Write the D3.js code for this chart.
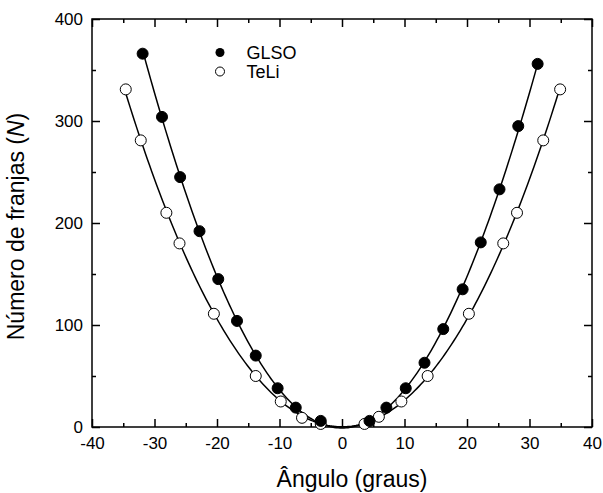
<!DOCTYPE html>
<html><head><meta charset="utf-8">
<script src="https://cdn.jsdelivr.net/npm/d3@7"></script>
<style>body{margin:0;background:#fff}svg{display:block}text{font-family:"Liberation Sans",Arial,sans-serif;fill:#000}</style>
</head><body><svg id="c" width="603" height="493"></svg>
<script>
const glsoX=[-31.9,-28.8,-25.9,-22.8,-19.8,-16.8,-13.8,-10.3,-7.4,-3.4,4.4,7.1,10.2,13.2,16.2,19.3,22.2,25.2,28.2,31.3];
const glsoY=[366,304,245,192,145,104,70,38,19,6,6,19,38,63,96,135,181,233,295,356];
const teliX=[-34.6,-32.2,-28.1,-26.0,-20.5,-13.8,-9.8,-6.4,-3.4,3.6,5.9,9.5,13.7,20.3,25.8,28.0,32.2,34.9];
const teliY=[331,281,210,180,111,50,25,9,3,3,10,25,50,111,180,210,281,331];
const xTicks=[-40,-30,-20,-10,0,10,20,30,40];
const yTicks=[0,100,200,300,400];
const seriesNames=["GLSO","TeLi"];

(function(){
const L=92,R=592,T=19,B=427;
const svg=d3.select("#c");
const x=d3.scaleLinear().domain([-40,40]).range([L,R]);
const y=d3.scaleLinear().domain([0,400]).range([B,T]);

// least-squares fit with even powers (1, x^2, x^4) of the plotted data
function evenFit(xs,ys){
  const pw=[0,2,4],n=pw.length,A=[],b=[];
  for(let i=0;i<n;i++){A.push(new Array(n).fill(0));b.push(0);}
  xs.forEach((xv,k)=>{for(let i=0;i<n;i++){b[i]+=ys[k]*Math.pow(xv,pw[i]);for(let j=0;j<n;j++)A[i][j]+=Math.pow(xv,pw[i]+pw[j]);}});
  for(let i=0;i<n;i++){let p=i;for(let r=i+1;r<n;r++)if(Math.abs(A[r][i])>Math.abs(A[p][i]))p=r;
    [A[i],A[p]]=[A[p],A[i]];[b[i],b[p]]=[b[p],b[i]];
    for(let r=i+1;r<n;r++){const f=A[r][i]/A[i][i];for(let c=i;c<n;c++)A[r][c]-=f*A[i][c];b[r]-=f*b[i];}}
  const c=new Array(n).fill(0);
  for(let i=n-1;i>=0;i--){let s=b[i];for(let j=i+1;j<n;j++)s-=A[i][j]*c[j];c[i]=s/A[i][i];}
  return v=>c.reduce((s,ci,i)=>s+ci*Math.pow(v,pw[i]),0);
}
const line=d3.line().x(d=>x(d[0])).y(d=>y(d[1]));
function drawFit(xs,ys){
  const f=evenFit(xs,ys);
  const lo=d3.min(xs),hi=d3.max(xs);
  const pts=d3.range(0,201).map(i=>{const v=lo+(hi-lo)*i/200;return [v,f(v)];});
  svg.append("path").attr("d",line(pts)).attr("fill","none").attr("stroke","#000").attr("stroke-width",1.5);
}
drawFit(glsoX,glsoY);
drawFit(teliX,teliY);

// axes
const g=svg.append("g");
const minorX=d3.range(-35,40,10), minorY=d3.range(50,400,100);
const fmt=d=>String(d);
g.append("rect").attr("x",L).attr("y",T).attr("width",R-L).attr("height",B-T).attr("fill","none").attr("stroke","#000").attr("stroke-width",1.5);
const axB=d3.axisBottom(x).tickValues(xTicks).tickSize(-8).tickPadding(9.5).tickFormat(fmt);
const axT=d3.axisTop(x).tickValues(xTicks).tickSize(-8).tickFormat("");
const axL=d3.axisLeft(y).tickValues(yTicks).tickSize(-8).tickPadding(9).tickFormat(fmt);
const axR=d3.axisRight(y).tickValues(yTicks).tickSize(-8).tickFormat("");
function style(a){a.select(".domain").remove();a.selectAll("line").attr("stroke","#000").attr("stroke-width",1.5);a.selectAll("text").style("font-size","17px").attr("font-family","Liberation Sans, Arial, sans-serif").attr("fill","#000");}
g.append("g").attr("transform",`translate(0,${B})`).call(axB).call(style);
g.append("g").attr("transform",`translate(0,${T})`).call(axT).call(style);
g.append("g").attr("transform",`translate(${L},0)`).call(axL).call(style);
g.append("g").attr("transform",`translate(${R},0)`).call(axR).call(style);
g.append("g").attr("transform",`translate(0,${B})`).call(d3.axisBottom(x).tickValues(minorX).tickSize(-4).tickFormat("")).call(style);
g.append("g").attr("transform",`translate(0,${T})`).call(d3.axisTop(x).tickValues(minorX).tickSize(-4).tickFormat("")).call(style);
g.append("g").attr("transform",`translate(${L},0)`).call(d3.axisLeft(y).tickValues(minorY).tickSize(-4).tickFormat("")).call(style);
g.append("g").attr("transform",`translate(${R},0)`).call(d3.axisRight(y).tickValues(minorY).tickSize(-4).tickFormat("")).call(style);

// points
svg.append("g").selectAll("circle").data(teliX.map((v,i)=>[v,teliY[i]])).join("circle")
  .attr("cx",d=>x(d[0])).attr("cy",d=>y(d[1])).attr("r",5.5).attr("fill","#fff").attr("stroke","#000").attr("stroke-width",1);
svg.append("g").selectAll("circle").data(glsoX.map((v,i)=>[v,glsoY[i]])).join("circle")
  .attr("cx",d=>x(d[0])).attr("cy",d=>y(d[1])).attr("r",5.5).attr("fill","#000").attr("stroke","#000").attr("stroke-width",1);

// legend
const leg=svg.append("g");
leg.append("circle").attr("cx",220).attr("cy",52.5).attr("r",4.5).attr("fill","#000");
leg.append("circle").attr("cx",220).attr("cy",71.5).attr("r",4.5).attr("fill","#fff").attr("stroke","#000").attr("stroke-width",1);
leg.append("text").attr("x",246.5).attr("y",58.8).style("font-size","18px").text(seriesNames[0]);
leg.append("text").attr("x",246.5).attr("y",77.8).style("font-size","18px").text(seriesNames[1]);

// titles
svg.append("text").attr("x",352).attr("y",486.5).attr("text-anchor","middle").style("font-size","23px").text("Ângulo (graus)");
const yt=svg.append("text").attr("transform",`translate(24,226.5) rotate(-90)`).attr("text-anchor","middle").style("font-size","23px");
yt.append("tspan").text("Número de franjas (");
yt.append("tspan").style("font-style","italic").text("N");
yt.append("tspan").text(")");
})();
</script></body></html>
